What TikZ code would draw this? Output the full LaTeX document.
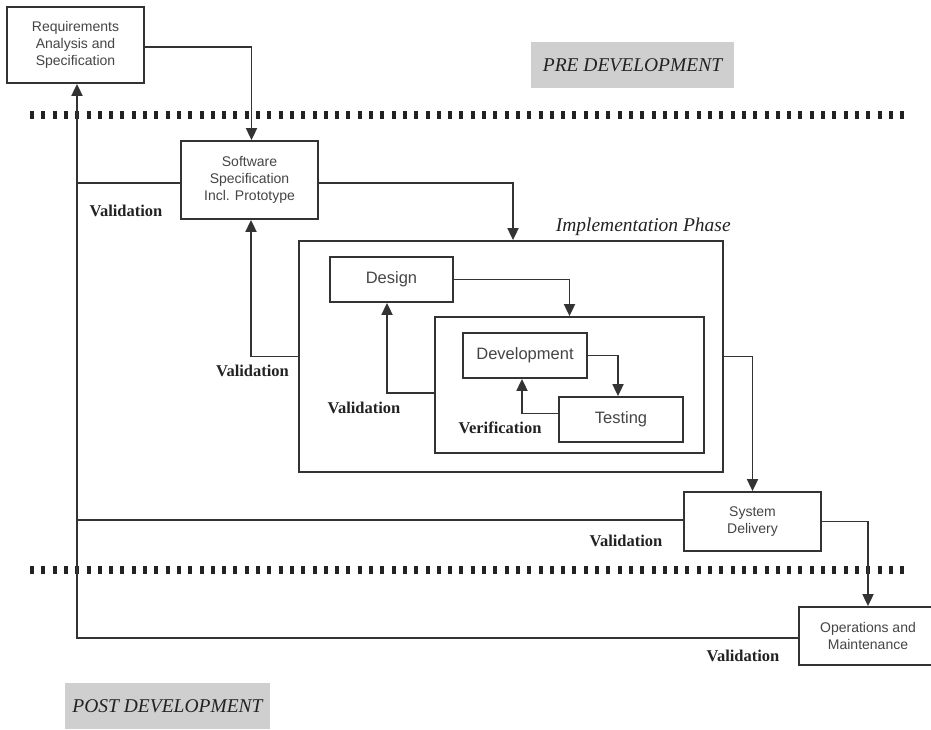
\documentclass[tikz,border=0pt]{standalone}
\usepackage{fontspec}
\setmainfont{Liberation Serif}
\setsansfont{Liberation Sans}
\usetikzlibrary{arrows.meta}
\definecolor{ink}{HTML}{333333}
\definecolor{boxtext}{HTML}{454545}
\definecolor{labeltext}{HTML}{222222}
\definecolor{bandgray}{HTML}{CFCFCF}
\begin{document}
\begin{tikzpicture}[x=1pt,y=-1pt,
  box/.style={draw=ink, line width=1.8pt, fill=white, inner sep=0pt, align=center,
    text=boxtext, font=\sffamily\fontsize{14}{17}\selectfont},
  stagebox/.style={box, font=\sffamily\fontsize{16.5}{20}\selectfont},
  frame/.style={draw=ink, line width=1.8pt, inner sep=0pt},
  conn/.style={draw=ink, line width=1.8pt},
  arr/.style={conn, -{Triangle[width=11pt,length=12pt]}},
  vlabel/.style={text=labeltext, font=\bfseries\fontsize{16.5}{20}\selectfont, inner sep=0pt},
  phase/.style={text=labeltext, font=\itshape\fontsize{19.5}{23}\selectfont, inner sep=0pt},
  band/.style={fill=bandgray, inner sep=0pt, text=labeltext, font=\itshape\fontsize{19.5}{23}\selectfont},
  divider/.style={draw=labeltext, line width=8pt, dash pattern=on 4pt off 7.3pt}
]
\useasboundingbox (0,0) rectangle (931,729);

% phase dividers
\draw[divider] (30,115) -- (906,115);
\draw[divider] (30,570) -- (906,570);

% phase bands
\node[band, minimum width=203pt, minimum height=46pt] (pre) at (632.5,65) {PRE DEVELOPMENT};
\node[band, minimum width=205pt, minimum height=46pt] (post) at (167.5,706) {POST DEVELOPMENT};

% stages
\node[box, minimum width=137pt, minimum height=76pt] (req) at (75.5,45)
  {Requirements\\Analysis and\\Specification};
\node[box, minimum width=137pt, minimum height=78pt] (sw) at (249.5,180)
  {Software\\Specification\\Incl. Prototype};
\node[frame, minimum width=424pt, minimum height=231pt] (impl) at (511,356.5) {};
\node[phase, anchor=south east] (impltitle) at ([xshift=7pt,yshift=4pt]impl.north east) {Implementation Phase};
\node[stagebox, minimum width=123pt, minimum height=45pt] (design) at (391.5,279.5) {Design};
\node[frame, minimum width=269pt, minimum height=136pt] (inner) at (569.5,385) {};
\node[stagebox, minimum width=124pt, minimum height=45pt] (dev) at (525,355.5) {Development};
\node[stagebox, minimum width=124pt, minimum height=45pt] (test) at (621,419.5) {Testing};
\node[box, minimum width=137pt, minimum height=59pt] (sd) at (752.5,521.5) {System\\Delivery};
\node[box, minimum width=138pt, minimum height=58pt] (ops) at (868,636) {Operations and\\Maintenance};

% forward flow
\draw[arr] ([yshift=-2pt]req.east) -| ([xshift=2pt]sw.north);
\draw[arr] ([yshift=-3pt]sw.east) -| ([xshift=2pt]impl.north);
\draw[arr] (design.east) -| (inner.north);
\draw[arr] (dev.east) -| ([xshift=-3pt]test.north);
\draw[arr] (impl.east) -| (sd.north);
\draw[arr] (sd.east) -| (ops.north);

% feedback loops
\draw[arr] ([yshift=6pt]test.west) -| ([xshift=-3pt]dev.south);
\draw[arr] ([yshift=-8pt]inner.west) -| ([xshift=-4.5pt]design.south);
\draw[arr] (impl.west) -| ([xshift=1.5pt]sw.south);

% validation spine back to the requirements
\coordinate (spine) at ([xshift=1.5pt]req.south);
\draw[arr] ([yshift=-2pt]ops.west) -| (spine);
\path ([yshift=-3pt]sw.west) coordinate (swv);
\draw[conn] (swv) -- (swv -| spine);
\path ([yshift=1.5pt]sd.west) coordinate (sdv);
\draw[conn] (sdv) -- (sdv -| spine);

% loop labels
\node[vlabel] (val1) at (126,211) {Validation};
\node[vlabel] (val2) at (252.5,371) {Validation};
\node[vlabel] (val3) at (364,408) {Validation};
\node[vlabel] (verif) at (500,428) {Verification};
\node[vlabel] (val4) at (626,541) {Validation};
\node[vlabel] (val5) at (743,656) {Validation};
\end{tikzpicture}
\end{document}
